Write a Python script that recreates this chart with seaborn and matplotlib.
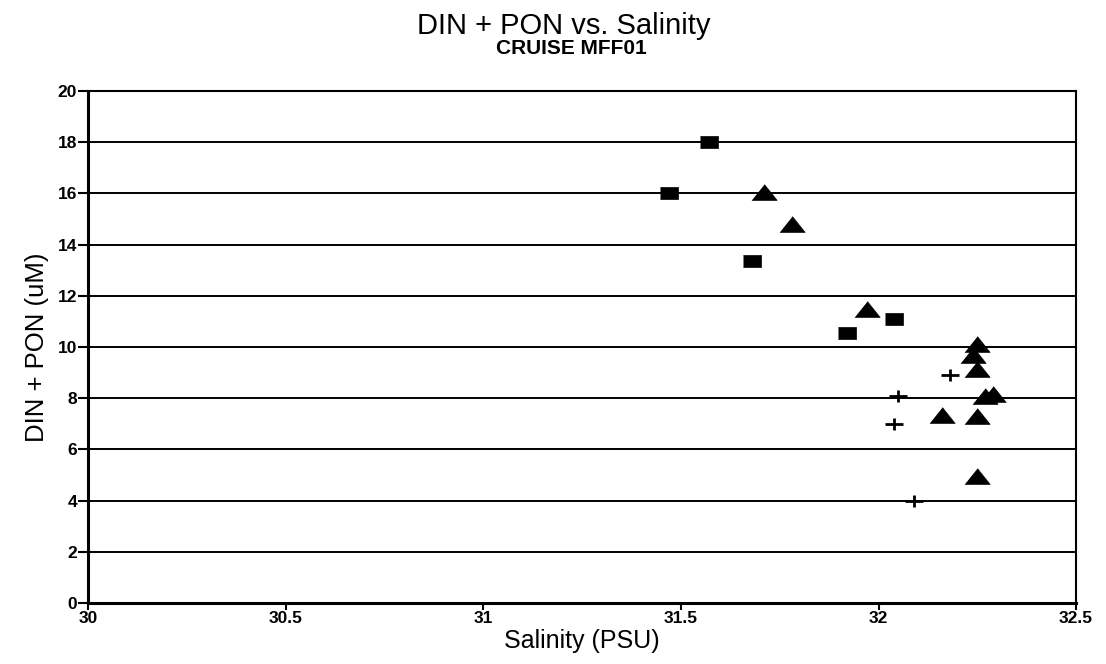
import matplotlib
matplotlib.use("Agg")
import matplotlib.pyplot as plt
from matplotlib.path import Path
import seaborn as sns
import pandas as pd

# --- data ---
sq_sal = [31.57, 31.47, 31.68, 31.92, 32.04]
sq_val = [18.0, 16.0, 13.35, 10.55, 11.1]

tri_sal = [31.71, 31.78, 31.97, 32.25, 32.24, 32.25, 32.27, 32.29, 32.16, 32.25, 32.25]
tri_val = [16.05, 14.8, 11.5, 10.1, 9.7, 9.15, 8.1, 8.15, 7.35, 7.3, 4.95]

plus_sal = [32.18, 32.05, 32.04, 32.09]
plus_val = [8.9, 8.1, 7.0, 4.0]

x_ticks = [30, 30.5, 31, 31.5, 32, 32.5]
x_tick_labels = ["30", "30.5", "31", "31.5", "32", "32.5"]
y_ticks = [0, 2, 4, 6, 8, 10, 12, 14, 16, 18, 20]

sns.set_theme(style="white")
plt.rcParams["font.family"] = ["Liberation Sans", "DejaVu Sans"]

fig = plt.figure(figsize=(11.06, 6.64), dpi=100)
ax = fig.add_axes([0.0796, 0.092, 0.8934, 0.771])

rect_marker = [(-1.5, -1.0), (1.5, -1.0), (1.5, 1.0), (-1.5, 1.0)]
tri_marker = [(-1.6, -1.0), (1.6, -1.0), (0.0, 1.0)]
plus_marker = Path([(-1.5, 0), (1.5, 0), (0, -1.0), (0, 1.0)],
                   [Path.MOVETO, Path.LINETO, Path.MOVETO, Path.LINETO])

df_sq = pd.DataFrame({"sal": sq_sal, "val": sq_val})
df_tri = pd.DataFrame({"sal": tri_sal, "val": tri_val})
df_plus = pd.DataFrame({"sal": plus_sal, "val": plus_val})

sns.scatterplot(data=df_sq, x="sal", y="val", ax=ax, marker=rect_marker,
                s=150, color="black", edgecolor="black", linewidth=0.5, zorder=3)
sns.scatterplot(data=df_tri, x="sal", y="val", ax=ax, marker=tri_marker,
                s=330, color="black", edgecolor="black", linewidth=0.5, zorder=3)
sns.scatterplot(data=df_plus, x="sal", y="val", ax=ax, marker=plus_marker,
                s=150, color="black", edgecolor="black", linewidth=2, zorder=3)

ax.set_xlim(30, 32.5)
ax.set_ylim(0, 20)
ax.set_xticks(x_ticks)
ax.set_xticklabels(x_tick_labels)
ax.set_yticks(y_ticks)
for y in y_ticks[1:]:
    ax.axhline(y, color="black", linewidth=1.4, zorder=1)

for side in ["left", "bottom", "right", "top"]:
    ax.spines[side].set_color("black")
    ax.spines[side].set_linewidth(1.5)
ax.spines["left"].set_linewidth(2.2)
ax.spines["bottom"].set_linewidth(2.2)

ax.tick_params(axis="y", which="major", direction="out", length=7, width=1.5,
               color="black", labelsize=12.5, labelcolor="black", pad=1)
ax.tick_params(axis="x", which="major", direction="out", length=5, width=1.5,
               color="black", labelsize=12.5, labelcolor="black", pad=1)
ax.tick_params(axis="both", bottom=True, left=True)
for lbl in ax.get_xticklabels() + ax.get_yticklabels():
    lbl.set_fontweight("bold")

ax.set_xlabel("Salinity (PSU)", fontsize=18, color="black", labelpad=2)
ax.set_ylabel("DIN + PON (uM)", fontsize=18.5, color="black", labelpad=6)

fig.text(0.51, 1 - 34 / 664, "DIN + PON vs. Salinity", ha="center", va="baseline",
         fontsize=21, color="black")
fig.text(0.517, 1 - 54 / 664, "CRUISE MFF01", ha="center", va="baseline",
         fontsize=15, fontweight="bold", color="black")

fig.savefig("out.png", dpi=100, facecolor="white")
